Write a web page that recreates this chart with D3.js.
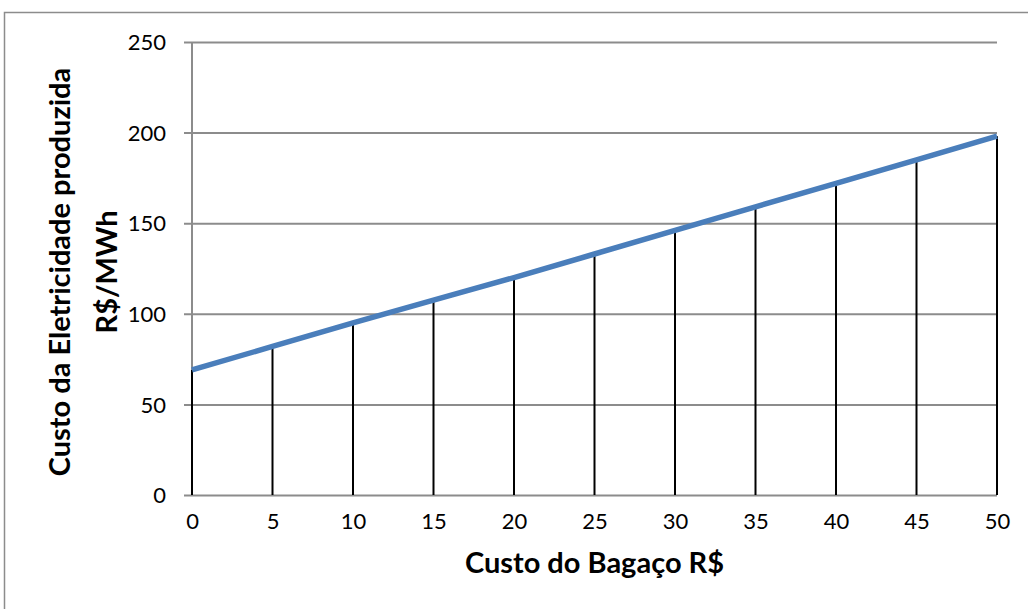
<!DOCTYPE html>
<html>
<head>
<meta charset="utf-8">
<script src="https://cdn.jsdelivr.net/npm/d3@7"></script>
<style>
  html, body { margin: 0; padding: 0; background: #fff; }
  svg { display: block; }
  text { font-family: Lato, "Open Sans", sans-serif; fill: #000; }
</style>
</head>
<body>
<svg id="chart" width="1028" height="609"></svg>
<script>
// Custo do bagaço (R$) and resulting electricity cost (R$/MWh)
const bagassCost = [0, 5, 10, 15, 20, 25, 30, 35, 40, 45, 50];
const electricityCost = [69, 82, 95, 107.5, 120, 133, 146, 159, 172, 185, 198];
const yTicks = [0, 50, 100, 150, 200, 250];
const xTicks = [0, 5, 10, 15, 20, 25, 30, 35, 40, 45, 50];

const svg = d3.select("#chart");
const plot = { left: 192, right: 997, top: 42, bottom: 495 };

// outer chart frame
svg.append("rect")
  .attr("x", 4.5).attr("y", 12.5)
  .attr("width", 1100).attr("height", 700)
  .attr("fill", "none").attr("stroke", "#8c8c8c").attr("stroke-width", 1.5);

const x = d3.scaleLinear().domain([0, 50]).range([plot.left, plot.right]);
const y = d3.scaleLinear().domain([0, 250]).range([plot.bottom, plot.top]);

// horizontal gridlines with short outer ticks
const yAxis = d3.axisLeft(y).tickValues(yTicks)
  .tickSize(-(plot.right - plot.left + 8)).tickPadding(0).tickFormat(d3.format("d"));
const gy = svg.append("g").attr("transform", `translate(${plot.left - 8},0)`).call(yAxis);
gy.select(".domain").remove();
gy.selectAll(".tick line").attr("stroke", "#8c8c8c").attr("stroke-width", 2);
gy.selectAll(".tick text").attr("font-size", 22).attr("x", -18).attr("dy", "0.35em");

// y axis line
svg.append("line")
  .attr("x1", plot.left).attr("x2", plot.left)
  .attr("y1", y(250)).attr("y2", y(0))
  .attr("stroke", "#8c8c8c").attr("stroke-width", 2);

// x tick labels
const xAxis = d3.axisBottom(x).tickValues(xTicks).tickSize(0).tickPadding(18).tickFormat(d3.format("d"));
const gx = svg.append("g").attr("transform", `translate(0,${plot.bottom})`).call(xAxis);
gx.select(".domain").remove();
gx.selectAll(".tick text").attr("font-size", 22);

// drop lines from each point to the baseline
svg.append("g").selectAll("line")
  .data(bagassCost)
  .join("line")
  .attr("x1", (d) => x(d)).attr("x2", (d) => x(d))
  .attr("y1", (d, i) => y(electricityCost[i])).attr("y2", y(0))
  .attr("stroke", "#000").attr("stroke-width", 2);

// cost line
const line = d3.line().x((d) => x(d[0])).y((d) => y(d[1]));
svg.append("path")
  .datum(bagassCost.map((d, i) => [d, electricityCost[i]]))
  .attr("d", line)
  .attr("fill", "none").attr("stroke", "#4a7ebb").attr("stroke-width", 5.5);

// axis titles
svg.append("text")
  .attr("x", (plot.left + plot.right) / 2).attr("y", 573)
  .attr("text-anchor", "middle").attr("font-size", 29).attr("font-weight", "bold")
  .text("Custo do Bagaço R$");

const yTitle = svg.append("text")
  .attr("transform", "translate(70,272) rotate(-90)")
  .attr("text-anchor", "middle").attr("font-size", 29).attr("font-weight", "bold");
yTitle.append("tspan").attr("x", 0).attr("y", 0).text("Custo da Eletricidade produzida");
yTitle.append("tspan").attr("x", 0).attr("y", 47).text("R$/MWh");
</script>
</body>
</html>
